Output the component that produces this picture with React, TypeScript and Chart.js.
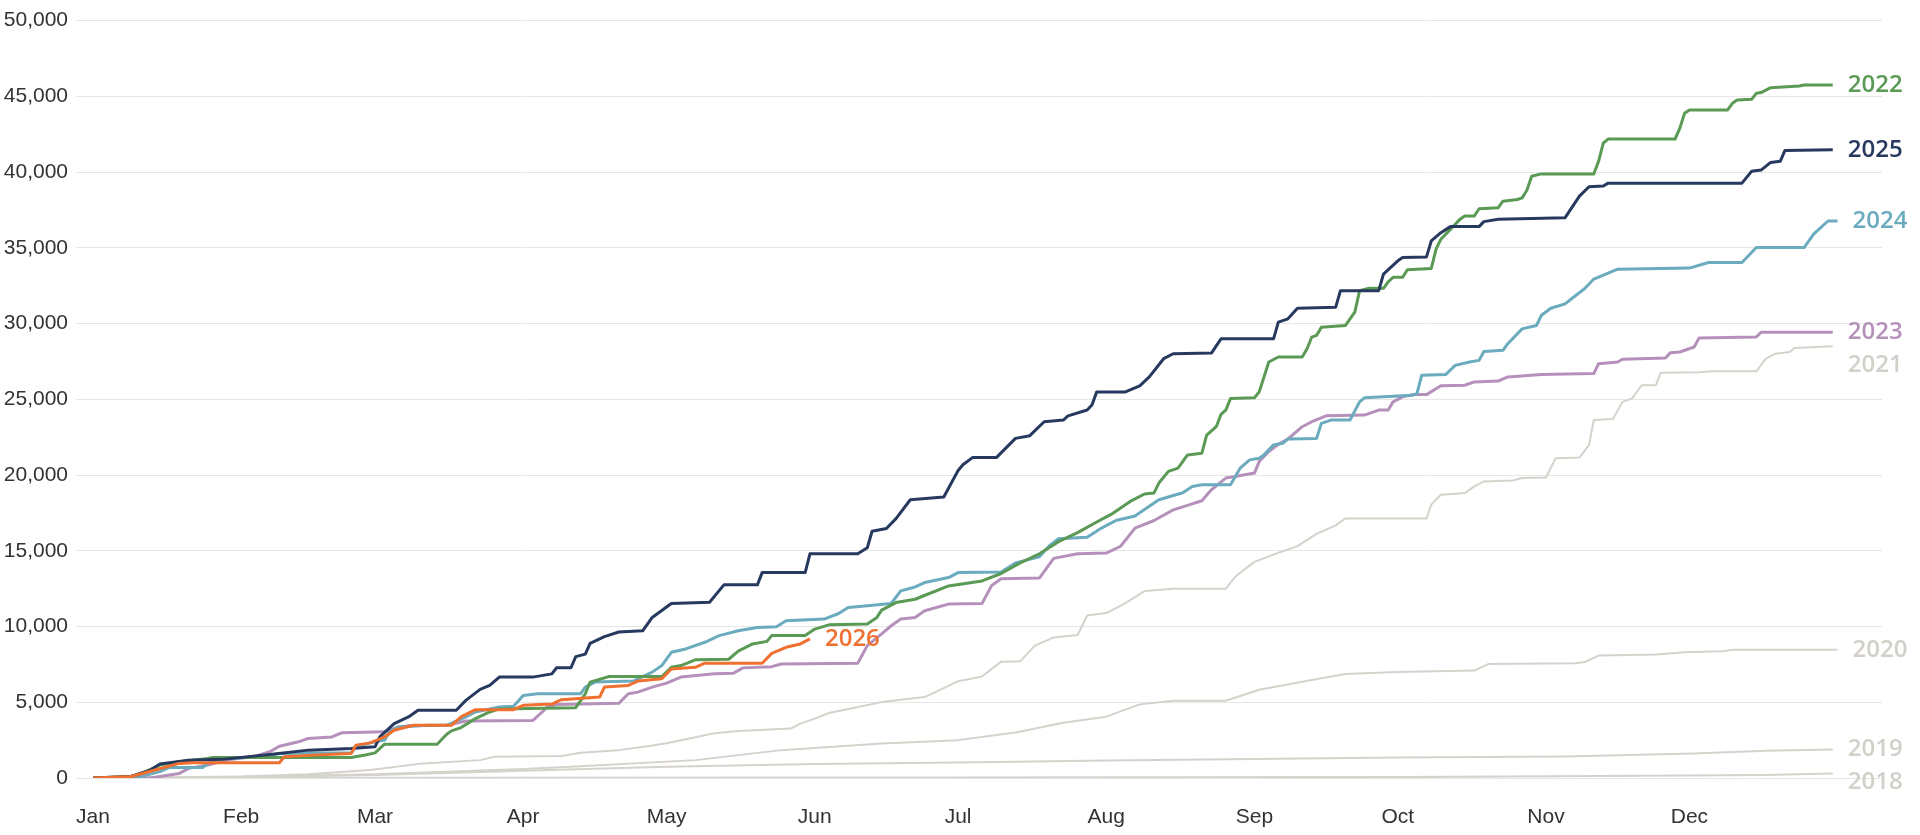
import React, { useEffect, useRef } from "react";
import { Chart, registerables } from "chart.js";

Chart.register(...registerables);

// ---- axis data ----
const monthLabels = ["Jan", "Feb", "Mar", "Apr", "May", "Jun", "Jul", "Aug", "Sep", "Oct", "Nov", "Dec"];
const monthStartDays = [0, 31, 59, 90, 120, 151, 181, 212, 243, 273, 304, 334];
const yMax = 50000;
const yStep = 5000;

// ---- series: [day of year, cumulative value] ----
const s2026: [number, number][] = [
  [0, 0], [8, 100], [13, 525], [18, 965], [21, 1000], [39, 1000], [40, 1400], [46, 1510], [54, 1620],
  [55, 2170], [58, 2320], [61, 2710], [63, 3150], [67, 3480], [75, 3480], [77, 4030], [80, 4510],
  [88, 4510], [90, 4800], [96, 4880], [98, 5170], [106, 5340], [107, 6000], [112, 6110], [114, 6400],
  [119, 6550], [121, 7200], [126, 7310], [128, 7580], [140, 7580], [142, 8230], [145, 8630], [148, 8850],
  [150, 9180],
];

const s2025: [number, number][] = [
  [0, 0], [8, 100], [12, 525], [14, 920], [20, 1170], [27, 1230], [38, 1580], [45, 1840], [54, 1950],
  [59, 2060], [60, 2710], [63, 3590], [66, 4030], [68, 4470], [76, 4470], [78, 5125], [81, 5850],
  [83, 6110], [85, 6660], [92, 6660], [96, 6875], [97, 7280], [100, 7280], [101, 8015], [103, 8180],
  [104, 8890], [107, 9330], [110, 9640], [115, 9720], [117, 10600], [121, 11520], [129, 11600],
  [132, 12750], [139, 12750], [140, 13560], [149, 13560], [150, 14800], [160, 14800], [162, 15200],
  [163, 16290], [166, 16470], [168, 17120], [171, 18370], [178, 18550], [181, 20300], [182, 20680],
  [184, 21150], [189, 21150], [193, 22420], [196, 22600], [199, 23520], [203, 23630], [204, 23910],
  [208, 24290], [209, 24620], [210, 25490], [216, 25490], [219, 25890], [221, 26480], [224, 27680],
  [226, 28010], [234, 28050], [236, 28990], [247, 28990], [248, 30090], [250, 30310], [252, 31010],
  [260, 31080], [261, 32170], [269, 32170], [270, 33270], [271, 33560], [273, 34140], [274, 34360],
  [279, 34400], [280, 35460], [282, 36000], [284, 36400], [290, 36400], [291, 36730], [294, 36880],
  [308, 36990], [311, 38410], [313, 39030], [316, 39080], [317, 39270], [345, 39270], [347, 40050],
  [349, 40130], [351, 40640], [353, 40710], [354, 41430], [364, 41480],
];

const s2024: [number, number][] = [
  [0, 0], [10, 100], [14, 420], [16, 700], [23, 700], [24, 965], [26, 1230], [35, 1400], [39, 1620],
  [54, 1660], [55, 2060], [58, 2320], [61, 2500], [62, 3040], [64, 3370], [70, 3480], [74, 3480],
  [78, 4030], [80, 4360], [85, 4690], [88, 4730], [90, 5450], [93, 5560], [102, 5560], [103, 6000],
  [105, 6330], [113, 6400], [117, 6990], [119, 7420], [121, 8300], [124, 8520], [128, 8960], [131, 9400],
  [135, 9720], [139, 9940], [143, 9990], [145, 10380], [153, 10490], [156, 10860], [158, 11260],
  [162, 11370], [167, 11520], [169, 12350], [172, 12610], [174, 12900], [179, 13230], [181, 13560],
  [190, 13600], [193, 14200], [198, 14600], [200, 15300], [202, 15800], [208, 15900], [211, 16500],
  [214, 17000], [218, 17300], [223, 18370], [228, 18830], [230, 19250], [232, 19360], [238, 19360],
  [240, 20450], [242, 21000], [244, 21110], [245, 21330], [247, 21990], [249, 22100], [250, 22380],
  [256, 22420], [257, 23410], [259, 23630], [263, 23630], [265, 24830], [266, 25100], [276, 25270],
  [277, 25380], [278, 26590], [283, 26630], [285, 27240], [288, 27460], [290, 27570], [291, 28160],
  [295, 28230], [296, 28670], [299, 29650], [302, 29870], [303, 30530], [305, 31010], [308, 31300],
  [310, 31800], [312, 32280], [314, 32940], [319, 33590], [334, 33660], [338, 34030], [345, 34030],
  [347, 34690], [348, 35020], [358, 35020], [360, 35900], [363, 36770], [365, 36770],
];

const s2023: [number, number][] = [
  [0, 0], [12, 0], [16, 200], [18, 290], [20, 635], [24, 855], [28, 1180], [34, 1445], [37, 1730],
  [39, 2100], [43, 2390], [45, 2610], [50, 2710], [52, 2980], [61, 3050], [64, 3370], [66, 3450],
  [74, 3480], [78, 3760], [92, 3790], [94, 4360], [95, 4690], [97, 4850], [110, 4930], [112, 5560],
  [114, 5670], [117, 6000], [120, 6260], [123, 6660], [130, 6880], [134, 6920], [136, 7270], [142, 7350],
  [144, 7530], [160, 7570], [162, 8740], [165, 9510], [167, 10050], [169, 10490], [172, 10600],
  [174, 11040], [179, 11480], [186, 11520], [188, 12700], [190, 13150], [198, 13200], [201, 14500],
  [206, 14800], [212, 14850], [215, 15300], [218, 16500], [222, 17000], [226, 17700], [229, 18000],
  [232, 18300], [234, 19030], [237, 19800], [239, 19910], [243, 20130], [244, 20890], [246, 21550],
  [248, 22030], [250, 22380], [253, 23190], [255, 23520], [258, 23910], [266, 23960], [269, 24290],
  [271, 24290], [272, 24830], [274, 25160], [276, 25310], [279, 25310], [282, 25890], [287, 25930],
  [289, 26150], [294, 26200], [296, 26480], [303, 26630], [314, 26700], [315, 27350], [319, 27460],
  [320, 27640], [329, 27720], [330, 28080], [332, 28120], [335, 28450], [336, 29040], [348, 29110],
  [349, 29430], [364, 29430],
];

const s2022: [number, number][] = [
  [0, 0], [8, 100], [11, 420], [14, 855], [18, 1070], [24, 1290], [25, 1360], [54, 1360], [57, 1520],
  [59, 1660], [61, 2230], [72, 2230], [74, 2890], [75, 3110], [77, 3330], [80, 3920], [83, 4360],
  [85, 4560], [101, 4640], [103, 5560], [104, 6330], [108, 6700], [119, 6700], [121, 7310], [123, 7420],
  [126, 7800], [133, 7840], [135, 8370], [138, 8850], [141, 9020], [142, 9400], [149, 9400], [151, 9830],
  [154, 10110], [162, 10160], [164, 10600], [165, 11080], [168, 11580], [172, 11800], [175, 12180],
  [179, 12680], [186, 13010], [190, 13500], [194, 14200], [198, 14800], [202, 15600], [206, 16200],
  [210, 16900], [213, 17400], [217, 18260], [220, 18750], [222, 18820], [223, 19470], [225, 20240],
  [227, 20460], [229, 21330], [232, 21440], [233, 22640], [235, 23190], [236, 24000], [237, 24290],
  [238, 25050], [243, 25100], [244, 25490], [246, 27460], [248, 27790], [253, 27790], [254, 28340],
  [255, 29110], [256, 29220], [257, 29760], [262, 29870], [264, 30750], [265, 32170], [267, 32330],
  [270, 32330], [271, 32760], [272, 33050], [274, 33050], [275, 33550], [280, 33640], [281, 34910],
  [282, 35570], [284, 36220], [286, 36880], [287, 37100], [289, 37100], [290, 37580], [294, 37650],
  [295, 38080], [298, 38190], [299, 38300], [300, 38800], [301, 39730], [303, 39880], [314, 39880],
  [315, 40710], [316, 41920], [317, 42180], [331, 42180], [332, 42900], [333, 43890], [334, 44100],
  [342, 44100], [343, 44540], [344, 44760], [347, 44800], [348, 45200], [349, 45250], [351, 45570],
  [357, 45680], [358, 45750], [364, 45750],
];

const s2021: [number, number][] = [
  [0, 0], [31, 100], [45, 250], [58, 525], [69, 965], [81, 1180], [84, 1400], [98, 1450], [102, 1660],
  [110, 1840], [116, 2100], [120, 2300], [130, 2950], [135, 3100], [146, 3260], [148, 3590], [151, 3920],
  [154, 4290], [160, 4690], [165, 5010], [174, 5340], [177, 5780], [181, 6390], [186, 6700], [190, 7680],
  [194, 7700], [197, 8720], [201, 9280], [206, 9440], [208, 10730], [212, 10890], [216, 11540],
  [220, 12340], [226, 12500], [237, 12500], [239, 13300], [243, 14270], [247, 14750], [252, 15310],
  [256, 16120], [260, 16680], [262, 17130], [279, 17130], [280, 18050], [282, 18700], [287, 18810],
  [289, 19250], [291, 19580], [297, 19640], [299, 19800], [304, 19840], [306, 21110], [311, 21150],
  [313, 21990], [314, 23630], [318, 23700], [320, 24830], [322, 25050], [324, 25930], [327, 25930],
  [328, 26760], [336, 26790], [339, 26850], [348, 26850], [350, 27680], [352, 28010], [355, 28120],
  [356, 28380], [364, 28510],
];

const s2020: [number, number][] = [
  [0, 0], [31, 80], [59, 250], [90, 600], [100, 750], [126, 1180], [144, 1840], [165, 2280], [181, 2500],
  [193, 3000], [203, 3650], [212, 4050], [219, 4860], [226, 5100], [237, 5100], [244, 5830], [255, 6470],
  [262, 6870], [273, 6990], [289, 7090], [292, 7530], [310, 7580], [312, 7640], [315, 8080], [327, 8150],
  [333, 8300], [341, 8370], [343, 8460], [365, 8460],
];

const s2019: [number, number][] = [
  [0, 0], [31, 50], [59, 200], [90, 480], [120, 750], [151, 920], [181, 1020], [212, 1150], [243, 1260],
  [273, 1360], [308, 1420], [335, 1620], [350, 1800], [364, 1880],
];

const s2018: [number, number][] = [
  [0, 0], [90, 20], [181, 40], [273, 60], [315, 130], [350, 200], [364, 300],
];

// ---- styling ----
type SeriesDef = { name: string; points: [number, number][]; color: string; labelColor: string; width: number; dy: number };

const GRAY = "#d5d2cb";
const GRAY_LABEL = "#d3d0c9";

const seriesDefs: SeriesDef[] = [
  { name: "2026", points: s2026, color: "#f07030", labelColor: "#f07030", width: 3, dy: 0 },
  { name: "2025", points: s2025, color: "#27395f", labelColor: "#27395f", width: 3, dy: 0 },
  { name: "2022", points: s2022, color: "#5a9a55", labelColor: "#5a9a55", width: 3, dy: 0 },
  { name: "2024", points: s2024, color: "#6aabbe", labelColor: "#6aabbe", width: 3, dy: 0 },
  { name: "2023", points: s2023, color: "#b590bb", labelColor: "#b590bb", width: 3, dy: 0 },
  { name: "2021", points: s2021, color: GRAY, labelColor: GRAY_LABEL, width: 2, dy: 19 },
  { name: "2020", points: s2020, color: GRAY, labelColor: GRAY_LABEL, width: 2, dy: 0 },
  { name: "2019", points: s2019, color: GRAY, labelColor: GRAY_LABEL, width: 2, dy: 0 },
  { name: "2018", points: s2018, color: GRAY, labelColor: GRAY_LABEL, width: 2, dy: 9 },
];

const endLabels = {
  id: "endLabels",
  afterDatasetsDraw(chart: any) {
    const ctx = chart.ctx as CanvasRenderingContext2D;
    chart.data.datasets.forEach((ds: any, i: number) => {
      const meta = chart.getDatasetMeta(i);
      const pt = meta.data[meta.data.length - 1];
      if (!pt) return;
      ctx.save();
      ctx.font = "600 24px 'Open Sans', 'Noto Sans', sans-serif";
      ctx.fillStyle = ds.labelColor;
      ctx.textAlign = "left";
      ctx.textBaseline = "middle";
      ctx.fillText(ds.label, pt.x + 15, pt.y + (ds.labelDy || 0));
      ctx.restore();
    });
  },
};

export default function App() {
  const canvasRef = useRef<HTMLCanvasElement | null>(null);

  useEffect(() => {
    if (!canvasRef.current) return;
    const chart = new Chart(canvasRef.current, {
      type: "line",
      data: {
        datasets: seriesDefs.map((s) => ({
          label: s.name,
          data: s.points.map(([x, y]) => ({ x, y })),
          borderColor: s.color,
          backgroundColor: s.color,
          borderWidth: s.width,
          pointRadius: 0,
          pointHoverRadius: 0,
          tension: 0,
          fill: false,
          borderJoinStyle: "round",
          labelColor: s.labelColor,
          labelDy: s.dy,
        })) as any,
      },
      options: {
        animation: false,
        responsive: false,
        devicePixelRatio: 1,
        layout: { padding: { top: 17, right: 38, left: 0, bottom: 0 } },
        plugins: {
          legend: { display: false },
          tooltip: { enabled: false },
        },
        scales: {
          x: {
            type: "linear",
            min: -3.56,
            max: 374.3,
            grid: { display: false, drawTicks: false },
            border: { display: false },
            afterBuildTicks: (scale: any) => {
              scale.ticks = monthStartDays.map((v) => ({ value: v }));
            },
            afterFit: (scale: any) => {
              scale.height = 57;
            },
            ticks: {
              autoSkip: false,
              maxRotation: 0,
              minRotation: 0,
              padding: 27,
              color: "#333333",
              font: { family: "'Liberation Sans', Arial, sans-serif", size: 21 },
              callback: (v: any) => {
                const idx = monthStartDays.indexOf(Number(v));
                return idx >= 0 ? monthLabels[idx] : "";
              },
            },
          },
          y: {
            type: "linear",
            min: 0,
            max: yMax,
            grid: { color: "#e6e6e6", lineWidth: 1, drawTicks: false },
            border: { display: false },
            afterFit: (scale: any) => {
              scale.width = 76;
            },
            ticks: {
              stepSize: yStep,
              padding: 8,
              color: "#333333",
              font: { family: "'Liberation Sans', Arial, sans-serif", size: 21 },
              callback: (v: any) => Number(v).toLocaleString("en-US"),
            },
          },
        },
      } as any,
      plugins: [endLabels],
    });
    return () => chart.destroy();
  }, []);

  return (
    <div style={{ position: "fixed", left: 0, top: 0, width: 1920, height: 835, background: "#ffffff" }}>
      <canvas ref={canvasRef} width={1920} height={835} style={{ display: "block" }} />
    </div>
  );
}
